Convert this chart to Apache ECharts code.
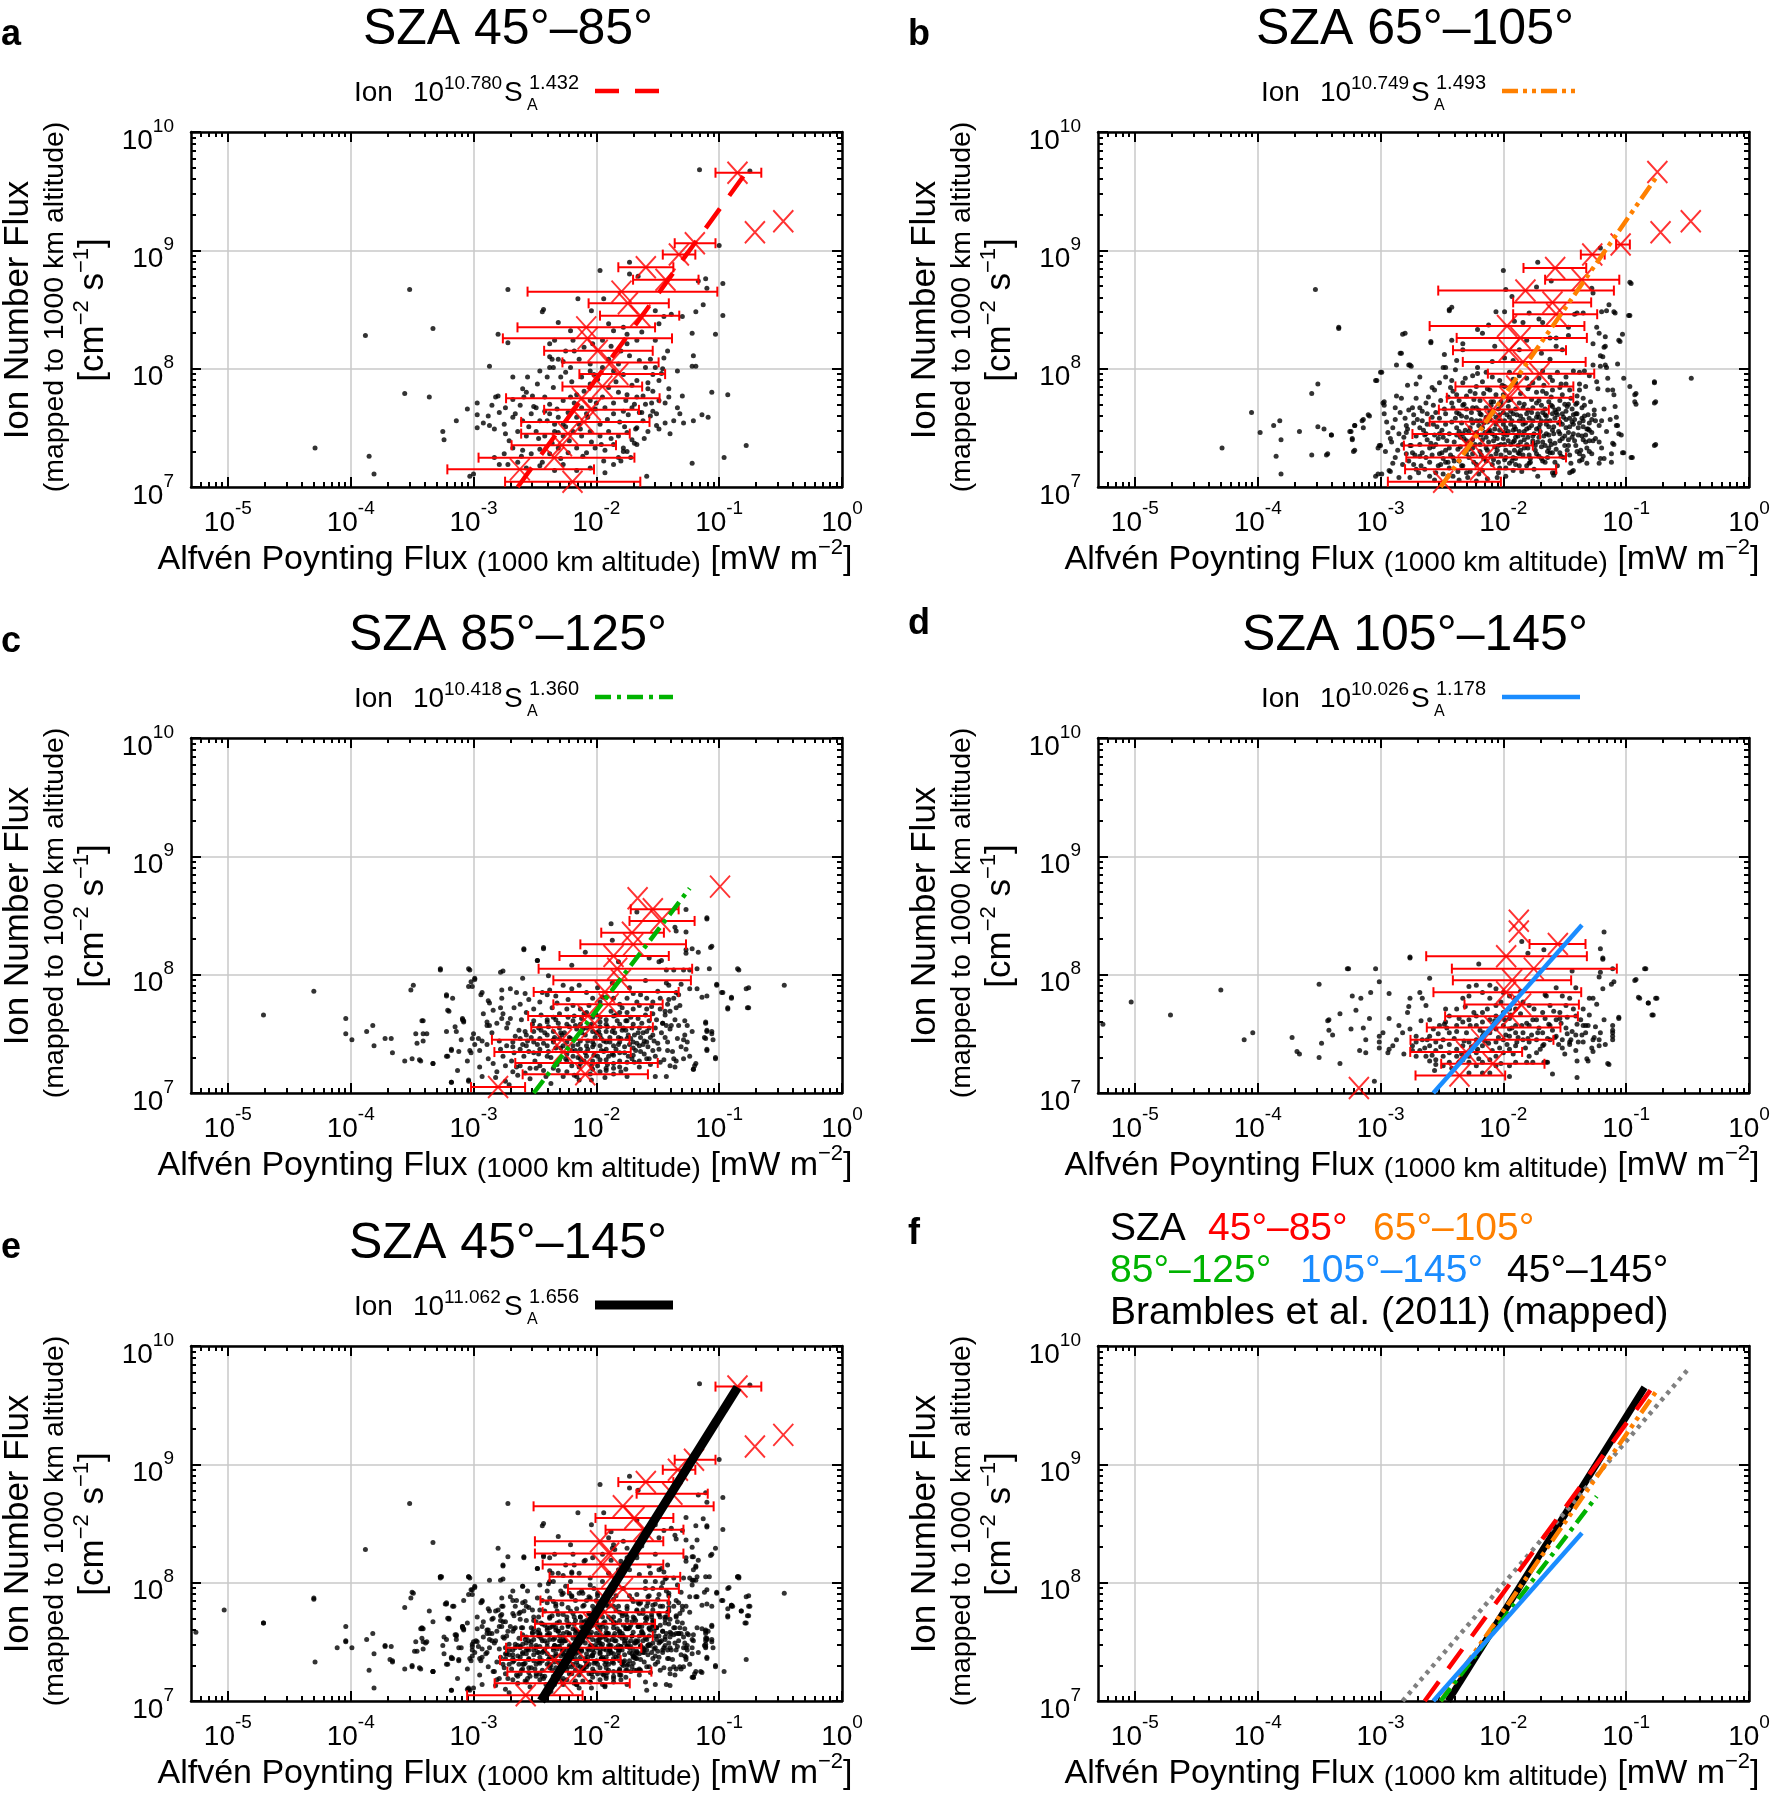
<!DOCTYPE html>
<html>
<head>
<meta charset="utf-8">
<title>Ion number flux vs Alfvén Poynting flux</title>
<script src="https://cdn.jsdelivr.net/npm/echarts@6.0.0/dist/echarts.min.js"></script>
<style>
  html, body { margin: 0; padding: 0; background: #fff; }
  #chart { width: 1773px; height: 1795px; }
</style>
</head>
<body>
<div id="chart"></div>
<script>
const FONT = '"Liberation Sans", Arial, Helvetica, sans-serif';

// all values are log10: S_A [mW m^-2] on x, ion number flux [cm^-2 s^-1] on y
const panelLetters = ['a', 'b', 'c', 'd', 'e', 'f'];
const panelTitles = ['SZA 45°–85°', 'SZA 65°–105°', 'SZA 85°–125°', 'SZA 105°–145°', 'SZA 45°–145°'];
const fitCoef = ['10.780', '10.749', '10.418', '10.026', '11.062'];
const fitExp = ['1.432', '1.493', '1.360', '1.178', '1.656'];
const fitColors = ['#ff0000', '#ff8000', '#00b300', '#1a8cff', '#000000'];
const fitDash = [[24, 16], [16, 5, 4, 5, 4, 5], [16, 6, 4, 6], 'solid', 'solid'];
const fitWidth = [4.5, 4.5, 4.5, 4.5, 9];
// fit line end points
const fitLogS = [[-2.64, -0.80], [-2.51, -0.74], [-2.51, -1.24], [-2.57, -1.36], [-2.45, -0.85]];
const fitLogF = [[7.0, 9.63], [7.0, 9.64], [7.0, 8.73], [7.0, 8.42], [7.0, 9.65]];
const bramblesLogS = [-2.82, -0.49];
const bramblesLogF = [7.0, 9.81];

// individual events (black dots)
const dotsA = [
  [-1.16,9.68],[-0.75,9.67],[-1.00,9.04],[-3.52,8.67],[-2.72,8.67],[-0.97,8.72],[-1.10,8.68],[-1.13,8.54],[-1.19,8.48],[-0.97,8.45],
  [-2.43,8.50],[-2.44,8.48],[-2.15,8.59],[-1.94,8.59],[-1.97,8.83],[-1.73,8.90],[-1.73,8.80],[-1.66,8.78],[-1.11,8.76],[-1.17,8.74],
  [-3.33,8.34],[-3.88,8.28],[-1.03,8.29],[-1.22,8.30],[-2.31,8.39],[-2.80,8.29],[-2.72,8.22],[-2.87,8.02],[-3.56,7.79],[-3.36,7.76],
  [-1.06,7.80],[-0.93,7.78],[-1.21,8.11],[-1.22,8.02],[-1.19,8.02],[-0.78,7.35],[-0.96,7.25],[-1.22,7.20],[-1.59,7.09],[-4.29,7.33],
  [-3.85,7.26],[-3.81,7.11],[-3.03,7.09],[-3.00,7.11],[-3.25,7.47],[-3.24,7.40],[-3.14,7.56],[-3.05,7.66],[-2.97,7.71],[-2.97,7.61],
  [-2.97,7.50],[-2.87,7.52],[-2.82,7.76],[-2.80,7.77],[-2.68,7.93],[-2.56,7.93],[-2.46,7.98],[-2.36,8.08],[-2.38,8.10],[-2.35,8.01],
  [-2.38,8.01],[-2.21,8.32],[-2.19,8.24],[-2.27,8.06],[-2.04,8.49],[-1.90,8.38],[-1.86,8.32],[-1.63,8.31],[-1.52,8.49],[-1.49,8.38],
  [-1.45,8.44],[-1.39,8.46],[-1.30,8.44],[-1.42,8.15],[-1.52,8.24],[-1.75,8.21],[-1.56,8.08],[-1.46,8.00],[-1.34,7.98],[-1.30,7.77],
  [-1.41,7.83],[-1.41,7.76],[-1.34,7.67],[-1.32,7.62],[-1.14,7.61],[-1.09,7.59],[-1.21,7.56],[-1.29,7.54],[-1.37,7.56],[-1.44,7.54],
  [-1.51,7.52],[-1.49,7.49],[-1.58,7.47],[-1.71,7.40],[-1.75,7.30],[-1.72,7.25],[-1.80,7.22],[-1.69,7.37],
  [-2.57,7.80],[-2.59,7.76],[-2.60,7.83],[-2.52,7.77],[-2.42,7.76],[-2.35,7.84],[-2.29,7.93],[-2.25,7.97],[-2.21,7.76],[-2.16,7.78],
  [-2.10,7.81],[-2.05,7.87],[-1.99,7.91],[-1.90,7.84],[-1.82,7.80],[-1.75,7.78],[-1.67,7.76],[-1.60,7.70],[-1.54,7.64],[-1.63,7.63],
  [-1.71,7.67],[-1.78,7.64],[-1.86,7.62],[-1.93,7.67],[-2.01,7.66],[-2.08,7.62],[-2.16,7.59],[-2.23,7.63],[-2.31,7.59],[-2.38,7.62],
  [-2.46,7.56],[-2.53,7.62],[-2.60,7.56],[-2.68,7.59],[-2.75,7.53],[-2.83,7.49],[-2.74,7.45],[-2.64,7.47],[-2.57,7.43],[-2.49,7.47],
  [-2.42,7.43],[-2.34,7.47],[-2.27,7.43],[-2.19,7.47],[-2.12,7.43],[-2.05,7.47],[-1.97,7.43],[-1.90,7.47],[-1.82,7.43],[-1.75,7.46],
  [-1.67,7.50],[-1.62,7.56],[-1.56,7.60],[-1.67,7.36],[-1.78,7.33],[-1.86,7.36],[-1.93,7.31],[-2.01,7.33],[-2.08,7.29],[-2.16,7.33],
  [-2.23,7.29],[-2.31,7.33],[-2.38,7.28],[-2.46,7.32],[-2.53,7.28],[-2.60,7.31],[-2.68,7.33],[-2.75,7.28],[-2.83,7.25],[-2.79,7.19],
  [-2.72,7.19],[-2.64,7.21],[-2.57,7.16],[-2.46,7.18],[-2.34,7.14],[-2.27,7.19],[-2.16,7.14],[-2.05,7.16],[-1.93,7.12],[-1.86,7.19],
  [-1.82,7.25],[-2.85,7.69],[-2.79,7.63],[-2.88,7.60],[-2.92,7.54],[-2.74,7.67],[-2.68,7.74],[-2.62,7.69],[-2.49,7.67],[-2.38,7.70],
  [-2.27,7.73],[-2.34,7.53],[-2.42,7.64],[-2.27,7.53],[-2.12,7.67],[-2.05,7.73],[-1.95,7.76],[-1.86,7.71],[-1.76,7.73],[-1.69,7.70],
  [-1.62,7.77],[-1.54,7.81],[-1.49,7.73],[-1.58,7.88],[-1.67,7.90],[-1.78,7.95],[-1.86,7.98],[-1.95,8.01],[-2.05,8.04],[-2.14,8.08],
  [-2.18,8.15],[-2.10,8.18],[-2.03,8.21],[-1.95,8.24],[-1.88,8.19],[-1.80,8.15],[-1.73,8.11],[-1.65,8.07],[-1.60,8.01],[-1.54,7.95],
  [-1.49,7.90],[-1.52,8.01],[-1.45,8.09],[-1.67,8.24],[-1.75,8.29],[-1.82,8.04],[-2.05,7.98],[-2.12,7.93],[-2.21,8.01],[-2.31,8.08],
  [-2.25,8.15],[-2.38,8.21],[-2.34,8.24],[-1.90,8.08],[-1.78,8.35],
  [-2.71,7.39],[-2.66,7.62],[-2.61,7.26],[-2.55,7.51],[-2.51,7.68],[-2.47,7.41],[-2.44,7.21],[-2.40,7.56],[-2.36,7.37],[-2.32,7.66],
  [-2.29,7.24],[-2.25,7.51],[-2.22,7.39],[-2.18,7.71],[-2.14,7.53],[-2.11,7.26],[-2.07,7.59],[-2.04,7.38],[-2.00,7.71],[-1.97,7.53],
  [-1.94,7.22],[-1.91,7.57],[-1.88,7.41],[-1.84,7.89],[-1.81,7.55],[-1.78,7.30],[-1.74,7.61],[-1.71,7.86],[-1.68,7.49],[-1.65,7.63],
  [-1.61,7.41],[-1.58,7.83],[-1.55,7.71],[-1.51,7.62],[-1.47,7.96],[-1.44,7.71],[-1.40,7.45],[-2.02,7.95],[-2.20,7.89],[-2.40,7.93],
  [-2.48,7.87],[-2.31,7.46],[-2.13,7.49],[-1.96,7.36],[-1.77,7.51]
];
const dotsB = [
  [-0.97,8.73],[-0.96,8.72],[-0.97,8.45],[-1.10,8.48],[-1.14,8.54],[-1.20,8.48],[-1.27,8.64],[-1.28,8.68],[-1.47,8.35],[-1.47,8.28],
  [-1.24,8.35],[-1.22,8.30],[-1.17,8.19],[-1.27,8.21],[-1.21,8.11],[-1.17,8.03],[-1.07,8.04],[-1.03,8.29],[-1.05,8.23],[-1.27,8.03],
  [-1.35,8.47],[-1.40,8.47],[-1.42,8.46],[-1.52,8.16],[-1.62,8.26],[-1.57,8.26],[-1.57,8.19],[-1.62,8.08],[-1.69,8.13],[-1.71,8.42],
  [-1.68,8.39],[-1.79,8.47],[-1.84,8.39],[-1.91,8.40],[-1.93,8.61],[-1.73,8.69],[-1.98,8.67],[-2.06,8.48],[-1.99,8.48],[-2.17,8.30],
  [-2.21,8.33],[-2.07,8.19],[-1.99,8.09],[-2.09,8.06],[-2.21,8.01],[-2.33,8.21],[-2.33,8.16],[-2.38,8.07],[-2.48,8.12],[-2.47,8.01],
  [-2.39,7.99],[-2.59,8.23],[-2.80,8.30],[-2.83,8.13],[-2.87,8.03],[-2.76,8.03],[-2.75,8.02],[-2.44,8.49],[-2.42,8.52],[-3.34,8.35],
  [-2.12,8.37],[-1.81,8.24],[-1.87,8.16],[-1.92,8.07],
  [-2.99,7.97],[-3.04,7.90],[-2.68,7.93],[-2.78,7.86],[-2.71,7.87],[-2.87,7.77],[-2.83,7.75],[-2.97,7.72],[-2.88,7.67],[-2.97,7.62],
  [-3.09,7.60],[-3.14,7.57],[-3.21,7.52],[-3.24,7.47],[-3.14,7.50],[-3.40,7.44],[-3.46,7.49],[-3.23,7.41],[-3.21,7.31],[-3.44,7.27],
  [-3.02,7.33],[-3.01,7.35],[-3.04,7.09],[-2.99,7.11],[-2.92,7.13],[-2.88,7.57],[-2.85,7.45],[-2.94,7.46],[-2.90,7.50],[-2.80,7.58],
  [-2.77,7.65],[-2.74,7.67],[-2.68,7.67],[-2.66,7.64],[-2.61,7.76],[-2.56,7.82],[-2.58,7.84],[-2.52,7.88],[-2.47,7.93],[-2.42,7.90],
  [-2.31,7.92],[-2.25,7.94],[-2.21,7.96],[-2.09,7.93],[-2.03,7.90],[-1.99,7.85],[-1.87,7.94],[-1.81,7.92],[-1.76,7.88],[-1.71,7.92],
  [-1.62,7.93],[-1.60,7.90],[-1.56,7.97],[-1.49,7.93],[-1.43,7.98],[-1.38,7.97],[-1.34,7.98],[-1.30,7.94],[-1.24,7.89],[-1.33,7.85],
  [-1.38,7.82],[-1.40,7.77],[-1.35,7.75],[-1.41,7.70],[-1.47,7.70],[-1.54,7.73],[-1.60,7.68],[-1.57,7.63],[-1.65,7.60],[-1.69,7.56],
  [-1.62,7.56],[-1.54,7.55],[-1.43,7.53],[-1.35,7.56],[-1.30,7.54],[-1.25,7.56],[-1.20,7.56],[-1.28,7.46],[-1.33,7.44],[-1.35,7.40],
  [-1.47,7.40],[-1.54,7.39],[-1.61,7.36],[-1.60,7.29],[-1.54,7.29],[-1.58,7.21],[-1.43,7.14],[-1.38,7.22],[-1.35,7.26],[-1.22,7.20],
  [-1.18,7.24],[-1.10,7.36],[-1.04,7.44],[-1.07,7.52],[-1.08,7.59],[-1.11,7.82],[-1.15,7.82],[-1.02,7.92],[-0.97,7.85],[-0.92,7.79],
  [-0.93,7.72],[-0.77,7.89],[-0.76,7.72],[-0.76,7.36],[-0.95,7.25],[-1.02,7.29],[-1.27,7.39],[-1.87,7.18],[-1.79,7.20],[-1.90,7.24],
  [-1.80,7.33],[-1.76,7.39],[-1.71,7.42],[-1.73,7.49],[-1.79,7.50],[-1.84,7.44],[-1.90,7.42],[-1.94,7.36],[-1.98,7.31],[-2.02,7.36],
  [-2.06,7.28],[-2.00,7.45],[-2.09,7.45],[-2.14,7.42],[-2.19,7.36],[-2.25,7.33],[-2.30,7.28],[-2.37,7.32],[-2.41,7.25],[-2.47,7.21],
  [-2.53,7.18],[-2.60,7.21],[-2.63,7.25],[-2.68,7.26],[-2.74,7.29],[-2.76,7.35],[-2.82,7.36],[-2.79,7.28],[-2.73,7.19],[-2.71,7.15],
  [-2.76,7.08],[-2.85,7.08],[-2.55,7.12],[-2.41,7.09],[-2.30,7.12],[-2.22,7.05],[-2.13,7.07],[-2.03,7.16],[-1.95,7.20],[-1.81,7.18],
  [-1.60,7.12],[-1.46,7.12],[-2.63,7.45],[-2.68,7.50],[-2.57,7.53],[-2.52,7.58],[-2.47,7.62],[-2.41,7.67],[-2.36,7.73],[-2.30,7.77],
  [-2.27,7.81],[-2.22,7.85],[-2.17,7.89],[-2.11,7.82],[-2.06,7.78],[-2.02,7.72],[-1.96,7.68],[-1.92,7.62],[-1.87,7.56],[-1.81,7.62],
  [-1.76,7.67],[-1.71,7.73],[-1.65,7.79],[-1.60,7.82],[-1.54,7.84],[-1.49,7.87],[-2.22,7.56],[-2.17,7.50],[-2.27,7.50],[-2.33,7.45],
  [-2.38,7.50],[-2.44,7.45],[-2.49,7.42],[-2.55,7.36],[-2.60,7.33],[-2.36,7.62],[-2.30,7.59],[-2.25,7.67],[-2.19,7.73],[-2.14,7.67],
  [-2.09,7.62],[-2.03,7.56],[-1.98,7.50],[-1.92,7.48],[-1.84,7.53],[-1.76,7.56],[-1.71,7.50],[-1.65,7.45],[-1.60,7.48],[-1.49,7.50],
  [-1.43,7.45],[-1.73,7.28],[-1.68,7.22],[-1.87,7.28],[-1.92,7.25],[-2.14,7.22],[-2.22,7.19],[-2.33,7.18],[-2.47,7.31],[-2.52,7.28],
  [-2.82,7.19],[-2.88,7.25],
  [-2.25,7.40],[-2.18,7.44],[-2.12,7.38],[-2.05,7.41],[-1.96,7.39],[-1.88,7.35],[-1.83,7.40],[-1.74,7.35],[-1.68,7.38],[-1.63,7.33],
  [-2.40,7.38],[-2.35,7.42],[-2.28,7.47],[-2.20,7.52],[-2.13,7.55],[-2.07,7.49],[-2.00,7.53],[-1.93,7.56],[-1.86,7.60],[-1.79,7.58],
  [-1.72,7.62],[-1.66,7.66],[-1.58,7.58],[-1.52,7.62],[-1.46,7.58],[-2.42,7.55],[-2.34,7.60],[-2.26,7.63],[-2.18,7.61],[-2.11,7.64],
  [-2.04,7.66],[-1.97,7.61],[-1.90,7.66],[-1.83,7.70],[-1.77,7.74],[-1.69,7.69],[-1.63,7.72],[-1.55,7.66],[-1.50,7.70],[-1.44,7.66],
  [-2.50,7.48],[-2.56,7.44],[-2.62,7.40],[-2.68,7.36],[-2.71,7.43],[-2.58,7.27],[-2.49,7.24],[-2.44,7.16],[-2.36,7.22],[-2.28,7.25],
  [-2.19,7.30],[-2.10,7.26],[-2.04,7.21],[-1.98,7.25],[-1.91,7.31],[-1.84,7.27],[-1.78,7.24],[-1.71,7.26],[-1.66,7.21],[-1.64,7.30],
  [-2.38,7.78],[-2.32,7.70],[-2.24,7.74],[-2.16,7.79],[-2.08,7.72],[-2.00,7.78],[-1.94,7.74],[-1.86,7.79],[-1.80,7.83],[-1.73,7.80],
  [-1.67,7.86],[-2.43,7.84],[-2.33,7.88],[-2.14,7.97],[-1.95,7.97],[-1.90,7.88],[-1.68,7.98],[-1.52,7.78],[-1.46,7.82],[-1.40,7.62],
  [-1.36,7.67],[-1.31,7.61],[-1.26,7.65],[-1.39,7.50],[-1.32,7.49],[-1.41,7.35],[-1.48,7.31],[-1.51,7.25],[-1.45,7.20],[-2.62,7.62],
  [-2.57,7.69],[-2.51,7.73],[-2.45,7.76],[-2.66,7.56],[-2.78,7.49],[-2.73,7.54],[-2.92,7.41],[-2.96,7.30],[-2.90,7.20],[-2.64,7.15],
  [-2.36,7.06],[-2.05,7.08],
  [-2.86,7.31],[-2.81,7.42],[-2.77,7.22],[-2.73,7.61],[-2.69,7.12],[-2.66,7.29],[-2.63,7.71],[-2.59,7.37],[-2.56,7.06],[-2.54,7.51],
  [-2.51,7.19],[-2.48,7.66],[-2.46,7.39],[-2.43,7.27],[-2.41,7.81],[-2.39,7.58],[-2.37,7.13],[-2.35,7.34],[-2.33,7.69],[-2.31,7.48],
  [-2.29,7.08],[-2.27,7.37],[-2.26,7.57],[-2.24,7.21],[-2.23,7.79],[-2.21,7.44],[-2.20,7.65],[-2.18,7.27],[-2.17,7.14],[-2.16,7.54],
  [-2.14,7.33],[-2.13,7.83],[-2.12,7.47],[-2.10,7.69],[-2.09,7.19],[-2.08,7.39],[-2.06,7.59],[-2.05,7.31],[-2.04,7.12],[-2.03,7.48],
  [-2.01,7.86],[-2.00,7.63],[-1.99,7.36],[-1.98,7.16],[-1.97,7.44],[-1.96,7.73],[-1.94,7.53],[-1.93,7.22],[-1.92,7.91],[-1.91,7.39],
  [-1.89,7.61],[-1.88,7.29],[-1.87,7.47],[-1.85,7.13],[-1.84,7.67],[-1.83,7.33],[-1.82,7.54],[-1.80,7.42],[-1.79,7.85],[-1.78,7.21],
  [-1.77,7.63],[-1.75,7.45],[-1.74,7.31],[-1.73,7.71],[-1.72,7.09],[-1.70,7.53],[-1.69,7.34],[-1.68,7.81],[-1.67,7.43],[-1.66,7.61],
  [-1.64,7.25],[-1.63,7.51],[-1.62,7.39],[-1.61,7.76],[-1.59,7.45],[-1.58,7.65],[-1.57,7.32],[-1.56,7.18],[-1.55,7.54],[-1.53,7.87],
  [-1.52,7.41],[-1.51,7.59],[-1.50,7.35],[-1.48,7.68],[-1.47,7.46],[-1.46,7.27],[-1.45,7.75],[-1.44,7.55],[-1.42,7.39],[-1.41,7.62],
  [-1.39,7.44],[-1.38,7.87],[-1.37,7.31],[-1.36,7.58],[-1.34,7.69],[-1.33,7.38],[-1.31,7.49],[-1.29,7.72],[-1.28,7.28],[-1.26,7.61],
  [-1.25,7.41],[-1.23,7.83],[-1.22,7.52],[-1.20,7.33],[-1.18,7.66],[-1.16,7.47],[-1.15,7.92],[-1.13,7.57],[-1.12,7.21],[-1.09,7.68],
  [-2.95,7.55],[-2.91,7.38],[-2.84,7.63],[-2.79,7.52],[-2.71,7.75],[-2.65,7.48],[-2.58,7.59],[-2.53,7.41],[-2.49,7.11],[-2.45,7.21],
  [-2.38,7.44],[-2.34,7.54],[-2.30,7.39],[-2.25,7.28],[-2.22,7.67],[-2.19,7.56],[-2.15,7.46],[-2.11,7.57],[-2.07,7.34],[-2.02,7.69],
  [-1.99,7.46],[-1.95,7.59],[-1.90,7.49],[-1.86,7.38],[-1.81,7.49],[-1.76,7.37],[-1.71,7.59],[-1.65,7.53],[-1.60,7.62],[-1.54,7.45],
  [-1.49,7.57],[-1.43,7.61],[-1.40,7.71],[-1.35,7.51],[-1.30,7.39],
  [-2.79,7.46],[-2.75,7.35],[-2.72,7.27],[-2.70,7.57],[-2.67,7.18],[-2.64,7.44],[-2.62,7.53],[-2.60,7.09],[-2.57,7.34],[-2.55,7.63],
  [-2.52,7.45],[-2.50,7.29],[-2.47,7.53],[-2.45,7.09],[-2.44,7.33],[-2.42,7.71],[-2.40,7.22],[-2.38,7.63],[-2.36,7.47],[-2.34,7.18],
  [-2.32,7.41],[-2.30,7.66],[-2.28,7.32],[-2.27,7.13],[-2.25,7.54],[-2.23,7.36],[-2.22,7.46],[-2.20,7.11],[-2.19,7.62],[-2.17,7.40],
  [-2.16,7.24],[-2.14,7.59],[-2.13,7.31],[-2.11,7.48],[-2.10,7.72],[-2.08,7.23],[-2.07,7.43],[-2.06,7.53],[-2.04,7.35],[-2.03,7.61],
  [-2.02,7.27],[-2.00,7.41],[-1.99,7.56],[-1.98,7.09],[-1.96,7.47],[-1.95,7.29],[-1.94,7.64],[-1.92,7.38],[-1.91,7.51],[-1.90,7.19],
  [-1.88,7.43],[-1.87,7.71],[-1.86,7.31],[-1.84,7.57],[-1.83,7.47],[-1.81,7.36],[-1.80,7.65],[-1.79,7.27],[-1.77,7.52],[-1.76,7.43],
  [-1.75,7.15],[-1.73,7.59],[-1.72,7.38],[-1.70,7.47],[-1.69,7.24],[-1.68,7.63],[-1.66,7.35],[-1.65,7.56],[-1.63,7.44],[-1.62,7.29],
  [-1.61,7.69],[-1.59,7.51],[-1.58,7.37],[-1.56,7.61],[-1.55,7.47],[-1.53,7.26],[-1.52,7.53],[-1.50,7.43],[-1.49,7.64],[-1.47,7.35],
  [-1.46,7.51],[-1.44,7.42],[-1.42,7.57],[-1.40,7.30],[-1.38,7.54],[-1.36,7.43],[-1.34,7.60],[-1.32,7.33],[-1.30,7.48],[-1.28,7.57],
  [-3.53,8.67],[-3.34,8.34],[-4.05,7.63],[-4.29,7.33],[-3.98,7.46],[-3.87,7.52],[-3.82,7.56],[-3.81,7.40],[-3.85,7.26],[-3.81,7.11],
  [-3.66,7.47],[-3.56,7.27],[-3.56,7.79],[-3.51,7.87],[-3.51,7.51],[-3.43,7.28],[-3.40,7.44],[-3.25,7.47],[-3.23,7.40],[-3.21,7.52],
  [-3.22,7.30],[-3.15,7.56],[-3.10,7.61],[-3.00,7.35],[-3.02,7.11],[-2.93,7.14],[-0.98,8.45],[-1.06,8.24],[-1.09,8.47],[-0.77,7.88],
  [-0.47,7.92],[-0.77,7.71],[-0.77,7.35],[-0.96,7.25],[-0.93,7.78],[-0.92,7.70],[-1.03,7.29],[-1.08,7.52],[-1.06,7.45],[-1.11,7.37],
  [-1.12,7.28],[-1.21,7.24],[-1.32,7.20],[-1.22,7.38],[-1.16,8.01],[-1.21,8.02],[-1.19,8.10],[-1.18,8.18],[-1.10,7.78],[-1.16,8.49],
  [-1.17,8.27],[-1.38,7.28],[-1.36,7.23],[-1.30,7.30],[-1.44,7.13],[-1.58,7.12],[-1.59,7.10],[-1.99,7.23],[-1.92,7.14],[-2.00,8.83],
  [-1.72,8.90],[-1.61,8.74],[-1.21,9.02],[-2.82,8.29],[-2.84,8.13],[-2.77,8.03],[-3.03,7.90],[-3.00,7.97],[-2.98,7.71],[-2.97,7.69],
  [-2.59,8.22],[-2.49,8.01],[-2.42,8.24],[-2.44,8.50]
];
const dotsC = [
  [-1.88,8.43],[-1.87,8.29],[-1.67,8.53],[-1.27,8.55],[-1.10,8.48],[-1.36,8.40],[-1.35,8.37],[-1.27,8.36],[-1.06,8.24],[-1.17,8.19],
  [-1.22,8.22],[-1.27,8.21],[-1.27,8.18],[-1.49,8.11],[-1.47,8.12],[-1.57,8.14],[-1.82,8.11],[-2.09,8.19],[-2.20,8.08],[-2.43,8.23],
  [-2.59,8.22],[-2.48,8.12],[-2.39,7.99],[-2.60,7.97],[-2.76,8.03],[-2.78,8.02],[-3.04,8.05],[-3.27,8.05],[-2.99,7.97],[-3.02,7.94],
  [-3.04,7.90],[-1.43,8.04],[-1.37,8.04],[-1.29,8.04],[-1.24,8.04],[-1.18,8.05],[-1.08,8.05],[-0.85,8.05],[-1.02,7.92],[-0.98,7.85],
  [-0.90,7.81],[-0.93,7.72],[-0.76,7.89],[-0.76,7.72],[-1.10,7.82],[-1.14,7.81],[-1.24,7.88],[-1.18,7.88],[-1.31,7.92],[-1.41,7.91],
  [-1.43,7.93],[-1.35,7.85],[-1.37,7.80],[-1.32,7.74],[-1.35,7.72],[-1.42,7.75],[-1.40,7.69],[-1.44,7.66],[-1.46,7.59],[-1.43,7.57],
  [-1.39,7.57],[-1.33,7.57],[-1.26,7.57],[-1.28,7.49],[-1.29,7.45],[-1.27,7.37],[-1.29,7.29],[-1.37,7.29],[-1.40,7.23],[-1.36,7.22],
  [-1.35,7.27],[-1.19,7.25],[-1.21,7.20],[-1.11,7.60],[-1.10,7.53],[-1.12,7.47],[-1.06,7.52],[-1.05,7.45],[-1.10,7.37],[-1.03,7.30],
  [-1.52,7.14],[-1.43,7.14],[-1.57,7.29],[-1.65,7.27],[-1.70,7.32],[-1.75,7.26],[-1.80,7.18],[-1.86,7.16],[-1.92,7.21],[-1.97,7.18],
  [-2.04,7.11],[-2.16,7.14],[-2.24,7.18],[-2.35,7.21],[-2.46,7.23],[-2.54,7.21],[-2.62,7.23],[-2.68,7.18],[-2.74,7.23],[-2.81,7.18],
  [-2.84,7.25],[-2.74,7.10],[-2.93,7.14],[-3.04,7.11],[-3.18,7.09],[-3.33,7.25],[-3.44,7.28],[-3.22,7.31],[-3.18,7.37],[-3.12,7.35],
  [-3.02,7.34],[-3.03,7.36],[-2.95,7.36],[-2.96,7.46],[-3.00,7.50],[-3.01,7.46],[-2.93,7.44],[-2.89,7.41],[-3.41,7.44],[-3.38,7.50],
  [-3.22,7.52],[-3.14,7.52],[-3.15,7.56],[-3.09,7.63],[-3.08,7.60],[-3.42,7.61],[-3.21,7.70],[-3.22,7.83],[-3.17,7.80],[-2.93,7.85],
  [-2.88,7.78],[-2.77,7.87],[-2.70,7.88],[-2.65,7.85],[-2.58,7.84],[-2.77,7.80],[-2.78,7.72],[-2.76,7.67],[-2.72,7.59],[-2.81,7.59],
  [-2.87,7.57],[-2.89,7.60],[-2.77,7.63],[-2.70,7.63],[-2.67,7.72],[-2.62,7.75],[-2.57,7.68],[-2.51,7.71],[-2.46,7.77],[-2.40,7.83],
  [-2.38,7.87],[-2.33,7.82],[-2.27,7.91],[-2.20,7.88],[-2.14,7.91],[-2.08,7.85],[-2.03,7.80],[-1.97,7.77],[-1.92,7.81],[-1.86,7.80],
  [-1.81,7.75],[-1.75,7.80],[-1.70,7.84],[-1.64,7.83],[-1.59,7.80],[-1.54,7.77],[-1.48,7.80],[-1.48,7.71],[-1.54,7.67],[-1.59,7.71],
  [-1.65,7.74],[-1.70,7.71],[-1.75,7.68],[-1.81,7.68],[-1.86,7.65],[-1.92,7.62],[-1.97,7.60],[-2.03,7.64],[-2.08,7.68],[-2.13,7.71],
  [-2.19,7.74],[-2.24,7.71],[-2.30,7.67],[-2.35,7.64],[-2.40,7.60],[-2.46,7.57],[-2.51,7.52],[-2.57,7.49],[-2.62,7.46],[-2.68,7.43],
  [-2.73,7.40],[-2.78,7.37],[-2.67,7.34],[-2.62,7.37],[-2.57,7.40],[-2.51,7.43],[-2.46,7.46],[-2.40,7.49],[-2.35,7.52],[-2.30,7.55],
  [-2.24,7.58],[-2.19,7.61],[-2.13,7.58],[-2.08,7.55],[-2.03,7.52],[-1.97,7.49],[-1.92,7.52],[-1.86,7.55],[-1.81,7.58],[-1.75,7.61],
  [-1.70,7.58],[-1.65,7.55],[-1.59,7.52],[-1.54,7.49],[-1.59,7.43],[-1.65,7.40],[-1.70,7.43],[-1.75,7.46],[-1.81,7.43],[-1.86,7.40],
  [-1.92,7.37],[-1.97,7.40],[-2.03,7.43],[-2.08,7.40],[-2.13,7.37],[-2.19,7.40],[-2.24,7.43],[-2.30,7.46],[-2.35,7.43],[-2.40,7.40],
  [-2.46,7.37],[-2.51,7.34],[-2.40,7.31],[-2.30,7.28],[-2.19,7.31],[-2.08,7.31],[-1.97,7.28],[-1.86,7.25],[-1.81,7.34],[-1.92,7.28],
  [-2.03,7.27],[-2.13,7.29],[-2.24,7.27],[-2.03,7.20],[-2.14,7.22],[-1.76,7.20],[-1.92,7.19],
  [-2.88,7.29],[-2.85,7.51],[-2.82,7.13],[-2.79,7.44],[-2.76,7.31],[-2.73,7.55],[-2.71,7.07],[-2.69,7.27],[-2.66,7.48],[-2.64,7.15],
  [-2.61,7.62],[-2.59,7.31],[-2.56,7.44],[-2.54,7.12],[-2.52,7.58],[-2.50,7.27],[-2.48,7.41],[-2.45,7.66],[-2.43,7.19],[-2.42,7.51],
  [-2.39,7.35],[-2.37,7.08],[-2.36,7.72],[-2.34,7.47],[-2.32,7.24],[-2.31,7.59],[-2.29,7.38],[-2.27,7.14],[-2.26,7.51],[-2.24,7.33],
  [-2.23,7.79],[-2.21,7.46],[-2.20,7.23],[-2.18,7.65],[-2.17,7.36],[-2.16,7.54],[-2.14,7.11],[-2.13,7.44],[-2.12,7.63],[-2.10,7.27],
  [-2.09,7.49],[-2.07,7.37],[-2.06,7.74],[-2.05,7.16],[-2.04,7.58],[-2.02,7.32],[-2.01,7.47],[-2.00,7.66],[-1.99,7.23],[-1.98,7.52],
  [-1.96,7.36],[-1.95,7.81],[-1.94,7.44],[-1.93,7.13],[-1.91,7.56],[-1.90,7.31],[-1.89,7.47],[-1.88,7.69],[-1.86,7.21],[-1.85,7.51],
  [-1.84,7.37],[-1.83,7.61],[-1.81,7.27],[-1.80,7.46],[-1.79,7.72],[-1.77,7.34],[-1.76,7.53],[-1.75,7.14],[-1.73,7.41],[-1.72,7.64],
  [-1.71,7.29],[-1.69,7.49],[-1.68,7.36],[-1.67,7.77],[-1.65,7.22],[-1.64,7.47],[-1.63,7.59],[-1.61,7.33],[-1.60,7.66],[-1.58,7.39],
  [-1.57,7.55],[-1.56,7.24],[-1.55,7.73],[-1.53,7.44],[-1.52,7.31],[-1.51,7.62],[-1.49,7.37],[-1.47,7.51],[-1.45,7.28],[-1.44,7.69],
  [-1.42,7.43],[-1.40,7.54],[-1.38,7.35],[-1.36,7.62],[-1.34,7.46],[-1.31,7.39],[-1.28,7.61],[-1.26,7.43],[-1.24,7.31],[-1.22,7.52],
  [-2.58,7.52],[-2.47,7.55],[-2.40,7.62],[-2.33,7.38],[-2.28,7.49],[-2.22,7.56],[-2.15,7.30],[-2.11,7.54],[-2.03,7.39],[-1.97,7.56],
  [-1.92,7.43],[-1.87,7.33],[-1.82,7.47],[-1.78,7.55],[-1.74,7.49],[-1.70,7.38],[-1.66,7.51],[-1.62,7.41],[-2.95,7.22],[-2.99,7.41],
  [-3.05,7.27],[-3.10,7.45],[-3.13,7.19],[-2.92,7.67],[-2.84,7.70],[-2.55,7.79],[-2.44,7.85],[-2.32,7.76],[-1.99,7.89],[-1.87,7.93],
  [-1.73,7.89],[-1.60,7.95],[-1.50,7.86],[-1.41,7.79],[-1.33,7.83],
  [-2.68,7.39],[-2.65,7.22],[-2.63,7.53],[-2.60,7.41],[-2.58,7.17],[-2.55,7.35],[-2.53,7.47],[-2.51,7.61],[-2.49,7.21],[-2.47,7.33],
  [-2.45,7.53],[-2.43,7.42],[-2.41,7.14],[-2.39,7.56],[-2.37,7.30],[-2.35,7.45],[-2.33,7.62],[-2.31,7.19],[-2.29,7.51],[-2.27,7.40],
  [-2.25,7.29],[-2.23,7.64],[-2.22,7.47],[-2.20,7.36],[-2.18,7.15],[-2.17,7.57],[-2.15,7.41],[-2.13,7.25],[-2.12,7.51],[-2.10,7.67],
  [-2.09,7.34],[-2.07,7.44],[-2.05,7.56],[-2.04,7.23],[-2.02,7.41],[-2.00,7.51],[-1.99,7.31],[-1.97,7.64],[-1.96,7.46],[-1.94,7.35],
  [-1.92,7.58],[-1.91,7.24],[-1.89,7.43],[-1.87,7.52],[-1.86,7.32],[-1.84,7.66],[-1.82,7.41],[-1.81,7.22],[-1.79,7.53],[-1.77,7.39],
  [-1.76,7.61],[-1.74,7.31],[-1.72,7.46],[-1.71,7.55],[-1.69,7.26],[-1.67,7.42],[-1.66,7.63],[-1.64,7.35],[-1.62,7.51],[-1.61,7.44],
  [-1.59,7.29],[-1.57,7.61],[-1.56,7.47],[-1.54,7.36],[-1.52,7.55],[-1.50,7.42],[-1.48,7.26],[-1.46,7.59],[-1.44,7.47],[-1.42,7.36],
  [-4.71,7.66],[-4.30,7.86],[-4.04,7.63],[-4.04,7.50],[-3.99,7.45],[-3.87,7.52],[-3.82,7.57],[-3.81,7.40],[-3.72,7.46],[-3.67,7.46],
  [-3.66,7.34],[-3.56,7.27],[-3.50,7.29],[-3.43,7.27],[-3.51,7.87],[-3.49,7.91],[-3.47,7.50],[-3.46,7.42],[-3.41,7.61],[-3.41,7.50],
  [-3.33,7.25],[-3.27,8.04],[-3.22,7.82],[-3.21,7.31],[-3.20,7.69],[-3.18,7.36],[-3.09,7.62],[-3.08,7.61],[-3.03,8.04],[-3.01,7.90],
  [-2.99,7.96],[-2.94,7.83],[-2.87,7.76],[-2.89,7.57],[-3.18,7.09],[-3.04,7.10],[-2.59,8.21],[-2.43,8.22],[-2.48,8.12],[-1.10,8.47],
  [-1.07,8.23],[-0.84,8.04],[-0.78,7.88],[-0.47,7.91],[-1.02,7.91],[-0.97,7.85],[-0.90,7.80],[-0.93,7.71],[-0.77,7.72],[-1.11,7.59],
  [-1.10,7.52],[-1.06,7.50],[-1.11,7.46],[-1.10,7.36],[-1.03,7.29],[-1.21,7.20],[-1.20,7.23]
];
const dotsD = [
  [-2.76,8.14],[-3.27,8.05],[-3.04,8.05],[-3.01,7.94],[-2.60,7.97],[-2.20,8.09],[-1.85,8.28],[-1.80,8.18],[-1.67,8.21],[-1.21,8.22],
  [-1.19,8.13],[-1.21,8.02],[-1.11,8.05],[-1.44,8.03],[-1.10,7.94],[-1.12,7.92],[-1.19,7.88],[-0.92,7.96],[-0.84,8.05],[-0.89,7.80],
  [-0.82,7.76],[-0.78,7.66],[-0.75,7.80],[-1.06,7.64],[-1.11,7.57],[-1.11,7.53],[-1.11,7.48],[-1.17,7.41],[-1.14,7.24],[-1.26,7.47],
  [-1.27,7.35],[-1.31,7.27],[-1.40,7.27],[-1.48,7.50],[-1.46,7.41],[-1.60,7.16],[-1.64,7.26],[-1.67,7.26],[-1.41,7.89],[-1.30,7.80],
  [-1.27,7.80],[-1.35,7.71],[-1.41,7.65],[-1.35,7.57],[-1.33,7.57],[-1.41,7.49],[-1.46,7.43],[-1.52,7.45],[-1.57,7.89],[-1.65,7.82],
  [-1.52,7.82],[-1.46,7.80],[-1.49,7.74],[-1.54,7.68],[-1.57,7.62],[-1.62,7.57],[-1.68,7.51],[-1.73,7.45],[-1.79,7.43],[-1.84,7.51],
  [-1.90,7.57],[-1.95,7.63],[-2.00,7.68],[-2.06,7.74],[-2.11,7.80],[-2.17,7.85],[-2.22,7.91],[-2.28,7.90],[-2.28,7.82],[-2.33,7.80],
  [-2.38,7.71],[-2.44,7.65],[-2.47,7.60],[-2.52,7.57],[-2.57,7.54],[-2.60,7.48],[-2.66,7.45],[-2.71,7.43],[-2.74,7.40],[-2.68,7.36],
  [-2.63,7.31],[-2.60,7.27],[-2.55,7.28],[-2.49,7.31],[-2.44,7.34],[-2.38,7.37],[-2.33,7.40],[-2.28,7.43],[-2.22,7.45],[-2.17,7.48],
  [-2.11,7.51],[-2.06,7.54],[-2.00,7.57],[-1.95,7.54],[-1.90,7.51],[-1.84,7.45],[-1.90,7.40],[-1.95,7.37],[-2.00,7.34],[-2.06,7.31],
  [-2.11,7.28],[-2.17,7.26],[-2.22,7.23],[-2.28,7.26],[-2.33,7.28],[-2.38,7.31],[-2.44,7.26],[-2.49,7.23],[-2.55,7.24],[-2.11,7.17],
  [-1.95,7.23],[-1.90,7.26],[-1.79,7.31],[-1.73,7.34],[-1.68,7.40],[-1.62,7.45],[-1.57,7.48],[-1.79,7.57],[-1.73,7.62],[-1.68,7.68],
  [-1.62,7.74],[-1.79,7.74],[-1.84,7.77],[-1.90,7.80],[-1.95,7.82],[-2.00,7.85],[-2.06,7.88],[-2.11,7.91],[-1.90,7.71],[-1.95,7.71],
  [-2.17,7.68],[-2.22,7.65],[-2.28,7.62],[-2.33,7.60],[-2.38,7.57],[-2.44,7.51],[-2.49,7.45],[-2.55,7.43],[-2.60,7.40],[-2.22,7.57],
  [-2.17,7.60],[-2.11,7.62],[-2.06,7.65],[-2.17,7.40],[-2.22,7.34],[-2.28,7.31],[-2.06,7.43],[-2.00,7.45],[-1.95,7.48],[-2.60,7.62],
  [-2.63,7.74],[-2.66,7.80],[-2.68,7.85],[-2.76,7.80],[-2.77,7.73],[-2.78,7.68],[-2.76,7.54],[-2.82,7.51],[-2.87,7.45],[-2.90,7.40],
  [-2.93,7.37],[-2.94,7.34],[-2.98,7.51],[-3.01,7.48],[-3.01,7.43],[-3.01,7.38],[-3.12,7.45],[-3.14,7.55],[-3.08,7.85],[-3.23,7.82],
  [-3.16,7.80],[-3.20,7.70],[-3.33,7.67],[-3.42,7.62],[-3.39,7.49],[-3.24,7.54],[-3.09,7.63],[-2.93,7.63],[-2.93,7.84],[-3.17,7.36],
  [-3.12,7.34],[-3.33,7.25],[-3.05,7.10],[-2.56,7.19],[-2.74,7.36],[-2.71,7.31],[-2.36,7.26],[-2.28,7.17],[-2.17,7.17],[-2.06,7.23],
  [-1.95,7.14],[-1.81,7.26],[-1.76,7.26],[-1.65,7.26],[-1.52,7.38],[-1.41,7.36],[-1.35,7.43],[-1.27,7.45],[-1.22,7.45],[-1.40,7.13],
  [-1.32,7.29],[-1.22,7.40],
  [-2.85,7.57],[-2.81,7.33],[-2.71,7.48],[-2.67,7.61],[-2.64,7.38],[-2.58,7.32],[-2.53,7.50],[-2.51,7.39],[-2.46,7.55],[-2.42,7.21],
  [-2.40,7.46],[-2.36,7.63],[-2.34,7.33],[-2.30,7.51],[-2.26,7.39],[-2.24,7.68],[-2.20,7.29],[-2.19,7.53],[-2.15,7.44],[-2.13,7.71],
  [-2.09,7.36],[-2.08,7.58],[-2.04,7.47],[-2.02,7.25],[-1.99,7.62],[-1.97,7.41],[-1.93,7.55],[-1.92,7.33],[-1.88,7.47],[-1.86,7.67],
  [-1.82,7.38],[-1.81,7.59],[-1.77,7.49],[-1.75,7.71],[-1.71,7.55],[-1.70,7.37],[-1.66,7.63],[-1.64,7.46],[-1.60,7.53],[-1.59,7.69],
  [-1.55,7.41],[-1.53,7.59],[-1.50,7.33],[-1.48,7.64],[-1.44,7.52],[-1.43,7.71],[-1.39,7.43],[-1.37,7.62],[-1.33,7.51],[-1.30,7.66],
  [-1.28,7.38],[-1.25,7.56],[-1.24,7.75],[-1.21,7.51],[-1.18,7.62],[-2.47,7.71],[-2.31,7.73],[-2.02,7.77],[-1.86,7.86],[-1.66,7.83],
  [-2.62,7.45],[-2.55,7.36],[-2.48,7.58],[-2.44,7.41],[-2.38,7.52],[-2.32,7.44],[-2.27,7.57],[-2.21,7.37],[-2.16,7.51],[-2.12,7.42],
  [-2.07,7.61],[-2.03,7.38],[-1.98,7.49],[-1.94,7.66],[-1.89,7.43],[-1.85,7.57],[-1.80,7.46],[-1.76,7.62],[-1.72,7.51],[-1.67,7.41],
  [-1.63,7.58],[-1.58,7.47],[-1.54,7.63],[-1.49,7.55],[-1.45,7.45],[-1.40,7.58],[-1.36,7.49],[-1.31,7.57],
  [-5.26,7.58],[-5.03,7.77],[-4.71,7.66],[-4.30,7.87],[-4.11,7.45],[-4.04,7.51],[-3.72,7.47],[-3.68,7.35],[-3.66,7.33],[-3.50,7.92],
  [-3.48,7.42],[-3.43,7.61],[-3.42,7.53],[-3.50,7.30],[-3.26,8.05],[-2.76,8.15],[-0.85,8.05],[-0.93,7.95],[-0.90,7.81],[-0.82,7.76],
  [-0.76,7.80],[-0.79,7.66],[-1.06,7.63],[-1.11,7.51],[-1.11,7.45],[-1.15,7.25],[-1.22,7.98],[-1.19,8.14],[-1.18,8.36]
];
// 45°–145° contains every event of the 45°–85°, 85°–125° and 105°–145° bins
const dotsE = dotsA.concat(dotsC, dotsD);

// binned medians (red crosses) and their horizontal error bars [lo, hi, y]
const markA = [[-0.851,9.656],[-0.709,9.153],[-0.478,9.246],[-1.198,9.060],[-1.328,8.964],[-1.597,8.857],[-1.437,8.752],[-1.795,8.651],
  [-1.743,8.552],[-1.642,8.448],[-2.082,8.349],[-2.071,8.256],[-1.989,8.151],[-1.884,8.053],[-1.821,7.954],[-1.951,7.849],[-2.119,7.750],
  [-2.045,7.652],[-2.101,7.550],[-2.231,7.451],[-2.280,7.353],[-2.343,7.248],[-2.623,7.149],[-2.194,7.045]];
const errA = [[-1.030,-0.657,9.656],[-1.362,-1.030,9.060],[-1.459,-1.194,8.964],[-1.821,-1.373,8.857],[-1.701,-1.168,8.752],
  [-2.560,-1.015,8.651],[-2.063,-1.410,8.552],[-1.970,-1.325,8.448],[-2.642,-1.522,8.349],[-2.761,-1.384,8.256],[-2.425,-1.541,8.151],
  [-2.276,-1.493,8.053],[-2.138,-1.440,7.954],[-2.276,-1.627,7.849],[-2.735,-1.485,7.750],[-2.425,-1.653,7.652],[-2.612,-1.567,7.550],
  [-2.612,-1.728,7.451],[-2.690,-1.840,7.353],[-2.959,-1.690,7.248],[-3.213,-2.019,7.149],[-2.743,-1.642,7.045]];
const markB = [[-0.746,9.661],[-0.720,9.153],[-0.474,9.246],[-1.045,9.049],[-1.276,8.964],[-1.578,8.851],[-1.362,8.752],[-1.82,8.66],
  [-1.60,8.56],[-1.57,8.46],[-1.97,8.36],[-1.86,8.26],[-1.955,8.156],[-1.84,8.057],[-1.706,7.958],[-1.895,7.85],[-1.95,7.754],
  [-2.085,7.654],[-2.07,7.552],[-2.23,7.448],[-2.29,7.35],[-2.15,7.25],[-2.19,7.15],[-2.49,7.045]];
const errB = [[-1.082,-0.970,9.049],[-1.369,-1.175,8.964],[-1.836,-1.325,8.851],[-1.660,-1.056,8.752],[-2.53,-1.10,8.66],
  [-1.92,-1.285,8.56],[-1.92,-1.236,8.46],[-2.60,-1.34,8.36],[-2.38,-1.32,8.26],[-2.41,-1.49,8.156],[-2.33,-1.33,8.057],
  [-2.126,-1.26,7.958],[-2.39,-1.43,7.85],[-2.46,-1.43,7.754],[-2.525,-1.63,7.654],[-2.60,-1.54,7.552],[-2.74,-1.70,7.448],
  [-2.81,-1.76,7.35],[-2.79,-1.49,7.25],[-2.80,-1.57,7.15],[-2.94,-2.02,7.045]];
const markC = [[-0.993,8.744],[-1.664,8.646],[-1.54,8.552],[-1.478,8.454],[-1.71,8.355],[-1.70,8.256],[-1.86,8.158],[-1.83,8.05],
  [-1.80,7.952],[-1.93,7.854],[-1.90,7.749],[-2.07,7.65],[-2.04,7.555],[-2.28,7.45],[-2.27,7.346],[-2.08,7.254],[-2.09,7.158],[-2.80,7.05]];
const errC = [[-1.72,-1.33,8.552],[-1.73,-1.20,8.454],[-1.96,-1.45,8.355],[-2.13,-1.27,8.256],[-2.30,-1.41,8.158],[-2.47,-1.22,8.05],
  [-2.35,-1.23,7.952],[-2.51,-1.33,7.854],[-2.35,-1.46,7.749],[-2.555,-1.556,7.65],[-2.53,-1.54,7.555],[-2.85,-1.73,7.45],
  [-2.83,-1.72,7.346],[-2.66,-1.50,7.254],[-2.60,-1.58,7.158],[-3.02,-2.58,7.05]];
const markD = [[-1.874,8.455],[-1.874,8.364],[-1.556,8.259],[-1.977,8.156],[-1.752,8.051],[-1.928,7.952],[-1.977,7.852],[-1.855,7.747],
  [-1.936,7.648],[-2.072,7.554],[-2.180,7.449],[-2.303,7.347],[-2.085,7.247],[-2.357,7.148],[-3.176,7.043]];
const errD = [[-1.787,-1.331,8.259],[-2.628,-1.320,8.156],[-2.419,-1.076,8.051],[-2.411,-1.448,7.952],[-2.569,-1.366,7.852],
  [-2.316,-1.385,7.747],[-2.474,-1.393,7.648],[-2.623,-1.535,7.554],[-2.756,-1.592,7.449],[-2.758,-1.847,7.347],[-2.506,-1.665,7.247],
  [-2.715,-1.985,7.148]];
const markE = [[-0.851,9.657],[-0.709,9.151],[-0.478,9.249],[-1.205,9.039],[-1.336,8.954],[-1.597,8.850],[-1.381,8.752],[-1.784,8.645],
  [-1.690,8.547],[-1.616,8.448],[-1.970,8.350],[-1.896,8.246],[-1.951,8.153],[-1.877,8.049],[-1.784,7.948],[-1.914,7.849],[-1.933,7.751],
  [-2.026,7.653],[-2.101,7.548],[-2.175,7.450],[-2.343,7.346],[-2.138,7.248],[-2.269,7.149],[-2.575,7.048]];
const errE = [[-1.030,-0.657,9.657],[-1.362,-1.030,9.039],[-1.459,-1.194,8.954],[-1.821,-1.373,8.850],[-1.672,-1.093,8.752],
  [-2.511,-1.045,8.645],[-2.007,-1.373,8.547],[-1.925,-1.291,8.448],[-2.500,-1.455,8.350],[-2.500,-1.291,8.246],[-2.437,-1.455,8.153],
  [-2.381,-1.317,8.049],[-2.231,-1.328,7.948],[-2.455,-1.410,7.849],[-2.437,-1.410,7.751],[-2.500,-1.522,7.653],[-2.612,-1.541,7.548],
  [-2.735,-1.634,7.450],[-2.784,-1.802,7.346],[-2.724,-1.552,7.248],[-2.828,-1.728,7.149],[-3.052,-2.112,7.048]];

const panelDots = [dotsA, dotsB, dotsC, dotsD, dotsE];
const panelMarks = [markA, markB, markC, markD, markE];
const panelErrs = [errA, errB, errC, errD, errE];

// ---- layout ----
const gridLeft = [191, 1098, 191, 1098, 191, 1098];
const gridTop = [132, 132, 738, 738, 1346, 1346];
const GW = 651, GH = 355;
const letterBase = [48, 48, 655, 637, 1261, 1247];

const X_MIN = -5.3, X_MAX = 0, Y_MIN = 7, Y_MAX = 10;
const xMajor = [-5, -4, -3, -2, -1, 0];
const yMajor = [7, 8, 9, 10];
function minorTicks(lo, hi) {
  const out = [];
  for (let n = Math.floor(lo); n < hi; n++) {
    for (let k = 2; k <= 9; k++) {
      const v = n + Math.log10(k);
      if (v > lo && v < hi) out.push(v);
    }
  }
  return out;
}
const xMinor = minorTicks(X_MIN, X_MAX);
const yMinor = minorTicks(Y_MIN, Y_MAX);

const tickRich = {
  b: { fontFamily: FONT, fontSize: 28, lineHeight: 38, color: '#000', verticalAlign: 'bottom' },
  s: { fontFamily: FONT, fontSize: 19, lineHeight: 16, color: '#000', verticalAlign: 'top' }
};
const powFmt = v => '{b|10}{s|' + Math.round(v) + '}';

function mkAxis(dim, g, pos, ticks, len, line, main) {
  const isX = dim === 'x';
  return {
    type: 'value', gridIndex: g, position: pos,
    min: isX ? X_MIN : Y_MIN, max: isX ? X_MAX : Y_MAX,
    axisLine: { show: line, onZero: false, lineStyle: { color: '#000', width: 2.5 } },
    axisTick: { show: true, inside: true, length: len, customValues: ticks, lineStyle: { color: '#000', width: 2 } },
    axisLabel: main ? {
      show: true, customValues: ticks, formatter: powFmt, rich: tickRich, color: '#000',
      margin: isX ? 12 : 17, padding: isX ? 0 : [8, 0, 0, 0]
    } : { show: false },
    splitLine: { show: main, lineStyle: { color: '#c8c8c8', width: 1.5 } },
    minorTick: { show: false }, minorSplitLine: { show: false }
  };
}

const grids = [], xAxes = [], yAxes = [], mainX = [], mainY = [];
gridLeft.forEach((L, g) => {
  grids.push({ left: L, top: gridTop[g], width: GW, height: GH, containLabel: false, outerBoundsMode: 'none' });
  mainX.push(xAxes.length);
  xAxes.push(mkAxis('x', g, 'bottom', xMajor, 10, true, true));
  xAxes.push(mkAxis('x', g, 'bottom', xMinor, 5, false, false));
  xAxes.push(mkAxis('x', g, 'top', xMajor, 10, true, false));
  xAxes.push(mkAxis('x', g, 'top', xMinor, 5, false, false));
  mainY.push(yAxes.length);
  yAxes.push(mkAxis('y', g, 'left', yMajor, 10, true, true));
  yAxes.push(mkAxis('y', g, 'left', yMinor, 5, false, false));
  yAxes.push(mkAxis('y', g, 'right', yMajor, 10, true, false));
  yAxes.push(mkAxis('y', g, 'right', yMinor, 5, false, false));
});

function renderErr(params, api) {
  const y = api.value(2);
  const p1 = api.coord([api.value(0), y]);
  const p2 = api.coord([api.value(1), y]);
  const h = 5;
  const st = { stroke: '#ff0000', lineWidth: 2 };
  return {
    type: 'group', children: [
      { type: 'line', shape: { x1: p1[0], y1: p1[1], x2: p2[0], y2: p2[1] }, style: st },
      { type: 'line', shape: { x1: p1[0], y1: p1[1] - h, x2: p1[0], y2: p1[1] + h }, style: st },
      { type: 'line', shape: { x1: p2[0], y1: p2[1] - h, x2: p2[0], y2: p2[1] + h }, style: st }
    ]
  };
}

function fitSeries(g, j, z) {
  return {
    type: 'line', xAxisIndex: mainX[g], yAxisIndex: mainY[g], z: z,
    data: [[fitLogS[j][0], fitLogF[j][0]], [fitLogS[j][1], fitLogF[j][1]]],
    symbol: 'none', silent: true, animation: false,
    lineStyle: { color: fitColors[j], width: g === 5 && j === 4 ? 7 : fitWidth[j], type: fitDash[j], cap: 'butt' }
  };
}

const series = [];
for (let g = 0; g < 5; g++) {
  series.push({
    type: 'scatter', xAxisIndex: mainX[g], yAxisIndex: mainY[g], data: panelDots[g],
    symbol: 'circle', symbolSize: 5, itemStyle: { color: '#000' }, silent: true, z: 2
  });
  series.push({
    type: 'custom', xAxisIndex: mainX[g], yAxisIndex: mainY[g], data: panelErrs[g],
    renderItem: renderErr, encode: { x: [0, 1], y: 2 }, silent: true, z: 3
  });
  series.push({
    type: 'scatter', xAxisIndex: mainX[g], yAxisIndex: mainY[g], data: panelMarks[g],
    symbol: 'path://M0,0L10,10M10,0L0,10', symbolSize: [20, 22],
    itemStyle: { color: 'rgba(0,0,0,0)', borderColor: '#ff0000', borderWidth: 2 }, silent: true, z: 4
  });
  series.push(fitSeries(g, g, 5));
}
// panel f: all fits together plus Brambles et al. (2011)
series.push(fitSeries(5, 4, 5));
series.push({
  type: 'line', xAxisIndex: mainX[5], yAxisIndex: mainY[5], z: 6, symbol: 'none', silent: true,
  data: [[bramblesLogS[0], bramblesLogF[0]], [bramblesLogS[1], bramblesLogF[1]]],
  lineStyle: { color: '#808080', width: 4.5, type: [4, 5] }
});
[0, 1, 2, 3].forEach(j => series.push(fitSeries(5, j, 7)));

// ---- text and legend graphics ----
function txt(x, base, text, size, color, align, weight) {
  return {
    type: 'text', x: x, y: base - 0.35 * size, silent: true,
    style: {
      text: text, fill: color || '#000', font: (weight || 'normal') + ' ' + size + 'px ' + FONT,
      align: align || 'left', verticalAlign: 'middle', textAlign: align || 'left', textVerticalAlign: 'middle'
    }
  };
}
const titleRich = {
  a: { fontFamily: FONT, fontSize: 34, lineHeight: 40, color: '#000', verticalAlign: 'bottom' },
  b: { fontFamily: FONT, fontSize: 28, lineHeight: 36, color: '#000', verticalAlign: 'bottom' },
  s: { fontFamily: FONT, fontSize: 22, lineHeight: 22, color: '#000', verticalAlign: 'top' }
};
const graphics = [];
gridLeft.forEach((L, g) => {
  const T = gridTop[g];
  graphics.push(txt(L - 190, letterBase[g], panelLetters[g], 36, '#000', 'left', 'bold'));
  // axis titles
  graphics.push({
    type: 'text', x: L + 314, y: T + GH + 82 - 12, silent: true,
    style: {
      text: '{a|Alfvén Poynting Flux }{b|(1000 km altitude)}{a| [mW m}{s|−2}{a|]}', rich: titleRich,
      align: 'center', verticalAlign: 'middle', textAlign: 'center', textVerticalAlign: 'middle'
    }
  });
  graphics.push({
    type: 'text', x: L - 173, y: T + 178, rotation: Math.PI / 2, silent: true,
    style: { text: 'Ion Number Flux', font: '35px ' + FONT, fill: '#000', align: 'center', verticalAlign: 'middle',
      textAlign: 'center', textVerticalAlign: 'middle' }
  });
  graphics.push({
    type: 'text', x: L - 136, y: T + 175, rotation: Math.PI / 2, silent: true,
    style: { text: '(mapped to 1000 km altitude)', font: '28.5px ' + FONT, fill: '#000', align: 'center', verticalAlign: 'middle',
      textAlign: 'center', textVerticalAlign: 'middle' }
  });
  graphics.push({
    type: 'text', x: L - 100, y: T + 178, rotation: Math.PI / 2, silent: true,
    style: { text: '{a|[cm}{s|−2}{a| s}{s|−1}{a|]}', rich: {
        a: { fontFamily: FONT, fontSize: 35, lineHeight: 40, color: '#000', verticalAlign: 'bottom' },
        s: { fontFamily: FONT, fontSize: 22, lineHeight: 22, color: '#000', verticalAlign: 'top' }
      }, align: 'center', verticalAlign: 'middle', textAlign: 'center', textVerticalAlign: 'middle' }
  });
  if (g < 5) {
    graphics.push(txt(L + 317, T - 84, panelTitles[g], 50, '#000', 'center'));
    const B = T - 29;
    graphics.push(txt(L + 163, B, 'Ion', 28));
    graphics.push(txt(L + 222, B, '10', 28));
    graphics.push(txt(L + 253, B - 13, fitCoef[g], 19));
    graphics.push(txt(L + 313, B, 'S', 28));
    graphics.push(txt(L + 336, B + 8, 'A', 16));
    graphics.push(txt(L + 338, B - 13, fitExp[g], 20));
    graphics.push({
      type: 'line', silent: true, shape: { x1: L + 404, y1: B - 12, x2: L + 482, y2: B - 12 },
      style: { stroke: fitColors[g], lineWidth: fitWidth[g], lineDash: fitDash[g] === 'solid' ? null : fitDash[g] }
    });
  }
});
// panel f legend
graphics.push(txt(1110, 1243, 'SZA', 39, '#000'));
graphics.push(txt(1208, 1243, '45°–85°', 39, fitColors[0]));
graphics.push(txt(1373, 1243, '65°–105°', 39, fitColors[1]));
graphics.push(txt(1110, 1285, '85°–125°', 39, fitColors[2]));
graphics.push(txt(1300, 1285, '105°–145°', 39, fitColors[3]));
graphics.push(txt(1507, 1285, '45°–145°', 39, '#000'));
graphics.push(txt(1110, 1327, 'Brambles et al. (2011) (mapped)', 39, '#000'));

const chart = echarts.init(document.getElementById('chart'), null, { renderer: 'canvas' });
chart.setOption({
  backgroundColor: '#fff',
  animation: false,
  textStyle: { fontFamily: FONT },
  grid: grids,
  xAxis: xAxes,
  yAxis: yAxes,
  series: series,
  graphic: graphics
});
</script>
</body>
</html>
